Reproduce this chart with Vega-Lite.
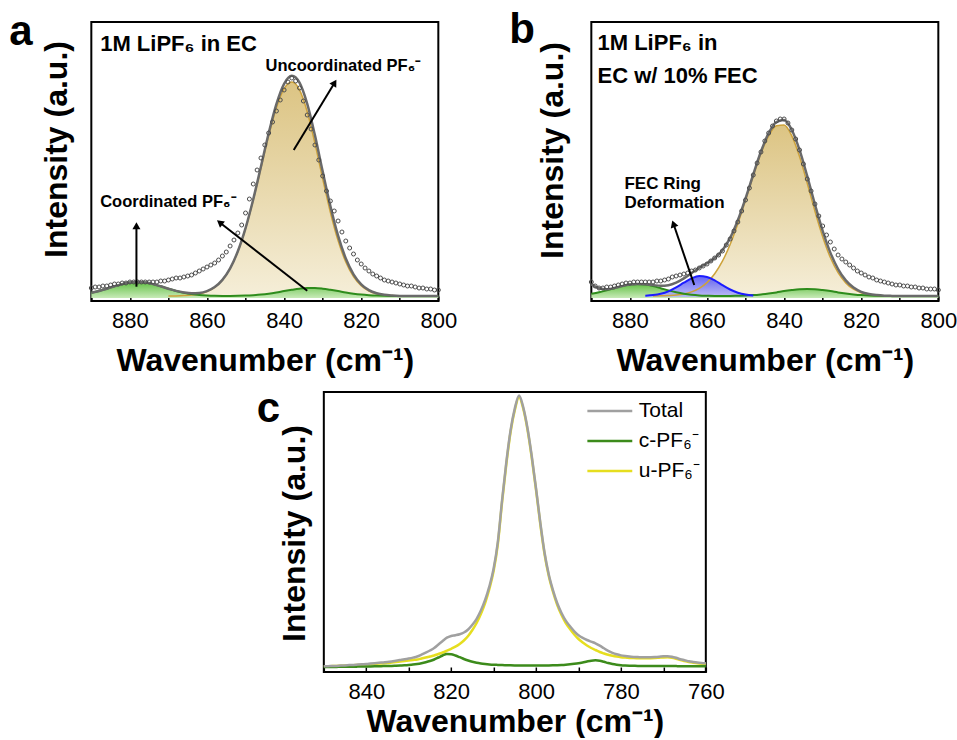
{
"$schema":"https://vega.github.io/schema/vega-lite/v6.json",
"padding":{"left":8,"top":7,"right":0,"bottom":0},
"config":{
 "font":"Liberation Sans",
 "view":{"stroke":"black","strokeWidth":2},
 "axis":{"grid":false,"domain":false,"labelFont":"Liberation Sans","labelFontSize":22,"labelColor":"black","titleFont":"Liberation Sans","titleFontSize":32,"titleFontWeight":"bold","titleColor":"black","tickColor":"black","tickWidth":1.5,"labelFlush":false,"labelOverlap":false},
 "axisX":{"tickSize":-5,"labelPadding":14,"titleBaseline":"alphabetic"},
 "axisY":{"labels":false,"ticks":false,"titleBaseline":"alphabetic"},
 "title":{"font":"Liberation Sans","fontSize":42,"fontWeight":"bold","color":"black","anchor":"start","frame":"group","offset":0,"baseline":"alphabetic"},
 "text":{"font":"Liberation Sans","fontWeight":"bold","color":"black","align":"left","baseline":"alphabetic"}
},
"datasets":{
"aFit":[
{"x":890,"total":8.2,"grn":8.2},{"x":888,"total":10.0,"grn":10.0},{"x":886,"total":12.3,"grn":12.3},{"x":884,"total":14.7,"grn":14.7},{"x":882,"total":16.9,"grn":16.9},{"x":880,"total":18.4,"grn":18.4},{"x":878,"total":19.0,"grn":19.0},{"x":876,"total":18.4,"grn":18.4},{"x":874,"total":16.9,"grn":16.9},{"x":872,"total":14.7,"grn":14.7},
{"x":870,"total":12.3,"yel":5.0,"grn":12.3},{"x":868,"total":10.1,"yel":5.1,"grn":10.0},{"x":866,"total":8.6,"yel":5.4,"grn":8.2},{"x":864,"total":7.8,"yel":5.9,"grn":6.9},{"x":862,"total":8.1,"yel":7.1,"grn":6.0},{"x":860,"total":9.9,"yel":9.4,"grn":5.5},{"x":858,"total":13.9,"yel":13.7,"grn":5.2},{"x":856,"total":21.1,"yel":21.0,"grn":5.1},{"x":854,"total":32.6,"yel":32.5,"grn":5.1},{"x":852,"total":49.7,"yel":49.5,"grn":5.2},
{"x":850,"total":72.9,"yel":72.5,"grn":5.4},{"x":848,"total":101.8,"yel":101.0,"grn":5.8},{"x":846,"total":134.5,"yel":133.1,"grn":6.4},{"x":844,"total":167.7,"yel":165.4,"grn":7.3},{"x":842,"total":196.8,"yel":193.3,"grn":8.5},{"x":840,"total":217.2,"yel":212.3,"grn":9.9},{"x":838,"total":225.2,"yel":219.0,"grn":11.2},{"x":836,"total":218.4,"yel":211.1,"grn":12.3},{"x":834,"total":197.1,"yel":189.2,"grn":12.9},{"x":832,"total":165.6,"yel":157.7,"grn":12.9},
{"x":830,"total":129.7,"yel":122.4,"grn":12.3},{"x":828,"total":95.0,"yel":88.8,"grn":11.2},{"x":826,"total":65.3,"yel":60.4,"grn":9.9},{"x":824,"total":42.5,"yel":39.0,"grn":8.5},{"x":822,"total":26.7,"yel":24.4,"grn":7.3},{"x":820,"total":16.7,"yel":15.3,"grn":6.4},{"x":818,"total":10.8,"yel":10.0,"grn":5.8},{"x":816,"total":7.7,"yel":7.3,"grn":5.4},{"x":814,"total":6.2,"yel":6.0,"grn":5.2},{"x":812,"total":5.5,"yel":5.4,"grn":5.1},
{"x":810,"total":5.1,"yel":5.1,"grn":5.0},{"x":808,"total":5.0,"yel":5.0,"grn":5.0},{"x":806,"total":5.0,"grn":5.0},{"x":804,"total":5.0,"grn":5.0},{"x":802,"total":5.0,"grn":5.0},{"x":800,"total":5.0,"grn":5.0}
],
"aObs":[
{"x":890,"y":13},{"x":889,"y":14},{"x":888,"y":14},{"x":887,"y":15},{"x":886,"y":15},{"x":885,"y":16},{"x":884,"y":17},{"x":883,"y":17},{"x":882,"y":18},{"x":881,"y":18},
{"x":880,"y":19},{"x":879,"y":19},{"x":878,"y":19},{"x":877,"y":19},{"x":876,"y":19},{"x":875,"y":19},{"x":874,"y":19},{"x":873,"y":19},{"x":872,"y":20},{"x":871,"y":20},
{"x":870,"y":21},{"x":869,"y":22},{"x":868,"y":23},{"x":867,"y":23},{"x":866,"y":24},{"x":865,"y":25},{"x":864,"y":26},{"x":863,"y":28},{"x":862,"y":30},{"x":861,"y":32},
{"x":860,"y":34},{"x":859,"y":36},{"x":858,"y":38},{"x":857,"y":41},{"x":856,"y":45},{"x":855,"y":49},{"x":854,"y":55},{"x":853,"y":61},{"x":852,"y":68},{"x":851,"y":76},
{"x":850,"y":88},{"x":849,"y":102},{"x":848,"y":117},{"x":847,"y":131},{"x":846,"y":143},{"x":845,"y":156},{"x":844,"y":168},{"x":843,"y":179},{"x":842,"y":190},{"x":841,"y":201},
{"x":840,"y":211},{"x":839,"y":219},{"x":838,"y":223},{"x":837,"y":220},{"x":836,"y":213},{"x":835,"y":200},{"x":834,"y":186},{"x":833,"y":172},{"x":832,"y":156},{"x":831,"y":141},
{"x":830,"y":125},{"x":829,"y":110},{"x":828,"y":100},{"x":827,"y":90},{"x":826,"y":80},{"x":825,"y":69},{"x":824,"y":60},{"x":823,"y":53},{"x":822,"y":47},{"x":821,"y":41},
{"x":820,"y":37},{"x":819,"y":33},{"x":818,"y":30},{"x":817,"y":27},{"x":816,"y":25},{"x":815,"y":23},{"x":814,"y":21},{"x":813,"y":20},{"x":812,"y":19},{"x":811,"y":18},
{"x":810,"y":17},{"x":809,"y":16},{"x":808,"y":15},{"x":807,"y":15},{"x":806,"y":14},{"x":805,"y":13},{"x":804,"y":13},{"x":803,"y":12},{"x":802,"y":12},{"x":801,"y":11},{"x":800,"y":11}
],
"aHead":[{"x":887.7,"y":250,"text":"1M LiPF₆ in EC"}],
"aNote":[{"x":844.8,"y":230,"text":"Uncoordinated PF₆⁻"},{"x":887.7,"y":94.3,"text":"Coordinated PF₆⁻"}],
"aArrow":[{"id":1,"x":878.3,"y":14.3,"x2":878.3,"y2":75.3},{"id":2,"x":834,"y":10.3,"x2":856.7,"y2":78.5},{"id":3,"x":837.5,"y":151,"x2":826.9,"y2":218.3}],
"bFit":[
{"x":890,"total":16.9,"grn":7.2},{"x":888,"total":12.7,"grn":8.7},{"x":886,"total":11.7,"grn":10.6},{"x":884,"total":13.0,"grn":12.8},{"x":882,"total":14.9,"grn":14.9},{"x":880,"total":16.4,"grn":16.4},{"x":878,"total":17.1,"grn":17.0},{"x":876,"total":16.7,"grn":16.4,"blu":5.3},
{"x":874,"total":15.9,"yel":5.1,"grn":14.9,"blu":5.9},{"x":872,"total":15.2,"yel":5.2,"grn":12.8,"blu":7.2},{"x":870,"total":15.8,"yel":5.5,"grn":10.6,"blu":9.7},{"x":868,"total":18.3,"yel":6.0,"grn":8.7,"blu":13.6},{"x":866,"total":22.6,"yel":7.1,"grn":7.2,"blu":18.3},{"x":864,"total":27.9,"yel":9.1,"grn":6.2,"blu":22.6},{"x":862,"total":33.2,"yel":12.7,"grn":5.6,"blu":24.9},{"x":860,"total":37.8,"yel":18.4,"grn":5.3,"blu":24.1},
{"x":858,"total":43.0,"yel":27.2,"grn":5.1,"blu":20.7},{"x":856,"total":50.7,"yel":39.8,"grn":5.1,"blu":15.9},{"x":854,"total":63.1,"yel":56.5,"grn":5.1,"blu":11.5},{"x":852,"total":80.8,"yel":77.2,"grn":5.3,"blu":8.3},{"x":850,"total":102.7,"yel":100.8,"grn":5.5,"blu":6.4},{"x":848,"total":126.5,"yel":125.1,"grn":5.9,"blu":5.5},{"x":846,"total":149.5,"yel":147.7,"grn":6.6},{"x":844,"total":167.8,"yel":165.2,"grn":7.5},
{"x":842,"total":178.9,"yel":175.3,"grn":8.6},{"x":840,"total":180.9,"yel":176.0,"grn":9.9},{"x":838,"total":171.0,"yel":165.1,"grn":10.9},{"x":836,"total":151.1,"yel":144.4,"grn":11.7},{"x":834,"total":124.8,"yel":117.8,"grn":12.0},{"x":832,"total":96.5,"yel":89.8,"grn":11.7},{"x":830,"total":70.2,"yel":64.3,"grn":10.9},{"x":828,"total":48.4,"yel":43.5,"grn":9.9},
{"x":826,"total":31.9,"yel":28.3,"grn":8.6},{"x":824,"total":20.6,"yel":18.1,"grn":7.5},{"x":822,"total":13.4,"yel":11.8,"grn":6.6},{"x":820,"total":9.2,"yel":8.3,"grn":5.9},{"x":818,"total":7.0,"yel":6.5,"grn":5.5},{"x":816,"total":5.9,"yel":5.6,"grn":5.3},{"x":814,"total":5.3,"yel":5.2,"grn":5.1},{"x":812,"total":5.1,"yel":5.1,"grn":5.0},
{"x":810,"total":5.0,"yel":5.0,"grn":5.0},{"x":808,"total":5.0,"grn":5.0},{"x":806,"total":5.0,"grn":5.0},{"x":804,"total":5.0,"grn":5.0},{"x":802,"total":5.0,"grn":5.0},{"x":800,"total":5.0,"grn":5.0}
],
"bObs":[
{"x":890,"y":19},{"x":889,"y":15},{"x":888,"y":13},{"x":887,"y":13},{"x":886,"y":14},{"x":885,"y":14},{"x":884,"y":15},{"x":883,"y":16},{"x":882,"y":17},{"x":881,"y":18},
{"x":880,"y":18},{"x":879,"y":19},{"x":878,"y":19},{"x":877,"y":19},{"x":876,"y":19},{"x":875,"y":19},{"x":874,"y":19},{"x":873,"y":20},{"x":872,"y":20},{"x":871,"y":21},
{"x":870,"y":22},{"x":869,"y":24},{"x":868,"y":25},{"x":867,"y":26},{"x":866,"y":27},{"x":865,"y":28},{"x":864,"y":30},{"x":863,"y":31},{"x":862,"y":33},{"x":861,"y":35},
{"x":860,"y":37},{"x":859,"y":40},{"x":858,"y":43},{"x":857,"y":46},{"x":856,"y":50},{"x":855,"y":56},{"x":854,"y":62},{"x":853,"y":70},{"x":852,"y":79},{"x":851,"y":90},
{"x":850,"y":101},{"x":849,"y":113},{"x":848,"y":126},{"x":847,"y":138},{"x":846,"y":149},{"x":845,"y":160},{"x":844,"y":168},{"x":843,"y":175},{"x":842,"y":180},{"x":841,"y":182},
{"x":840,"y":182},{"x":839,"y":178},{"x":838,"y":171},{"x":837,"y":162},{"x":836,"y":151},{"x":835,"y":137},{"x":834,"y":122},{"x":833,"y":110},{"x":832,"y":97},{"x":831,"y":85},
{"x":830,"y":75},{"x":829,"y":66},{"x":828,"y":59},{"x":827,"y":52},{"x":826,"y":46},{"x":825,"y":42},{"x":824,"y":39},{"x":823,"y":36},{"x":822,"y":33},{"x":821,"y":30},
{"x":820,"y":28},{"x":819,"y":26},{"x":818,"y":24},{"x":817,"y":23},{"x":816,"y":21},{"x":815,"y":20},{"x":814,"y":19},{"x":813,"y":18},{"x":812,"y":17},{"x":811,"y":16},
{"x":810,"y":16},{"x":809,"y":15},{"x":808,"y":15},{"x":807,"y":14},{"x":806,"y":14},{"x":805,"y":13},{"x":804,"y":13},{"x":803,"y":12},{"x":802,"y":12},{"x":801,"y":12},{"x":800,"y":11}
],
"bHead":[{"x":888.4,"y":251,"text":"1M LiPF₆ in"},{"x":888.4,"y":218.3,"text":"EC w/ 10% FEC"}],
"bNote":[{"x":881.4,"y":111.7,"text":"FEC Ring"},{"x":881.4,"y":92.7,"text":"Deformation"}],
"bArrow":[{"id":1,"x":863.3,"y":16,"x2":868.7,"y2":77.2}],
"cLines":[
{"x":850,"total":5.7,"c":5.0,"u":5.7},{"x":849,"total":5.8,"c":5.0,"u":5.8},{"x":848,"total":6.0,"c":5.1,"u":5.9},{"x":847,"total":6.1,"c":5.1,"u":6.0},{"x":846,"total":6.4,"c":5.2,"u":6.2},{"x":845,"total":6.6,"c":5.2,"u":6.4},{"x":844,"total":6.9,"c":5.3,"u":6.6},{"x":843,"total":7.1,"c":5.3,"u":6.8},{"x":842,"total":7.4,"c":5.4,"u":7.0},{"x":841,"total":7.7,"c":5.5,"u":7.2},
{"x":840,"total":8.0,"c":5.5,"u":7.5},{"x":839,"total":8.4,"c":5.6,"u":7.8},{"x":838,"total":8.8,"c":5.7,"u":8.1},{"x":837,"total":9.2,"c":5.8,"u":8.4},{"x":836,"total":9.6,"c":5.9,"u":8.7},{"x":835,"total":10.0,"c":6.0,"u":9.0},{"x":834,"total":10.6,"c":6.1,"u":9.5},{"x":833,"total":11.3,"c":6.3,"u":10.0},{"x":832,"total":12.0,"c":6.5,"u":10.5},{"x":831,"total":12.7,"c":6.7,"u":11.0},
{"x":830,"total":13.5,"c":7.0,"u":11.5},{"x":829,"total":14.4,"c":7.4,"u":12.0},{"x":828,"total":15.5,"c":8.0,"u":12.5},{"x":827,"total":17.3,"c":8.8,"u":13.5},{"x":826,"total":19.3,"c":9.8,"u":14.5},{"x":825,"total":21.5,"c":11.0,"u":15.5},{"x":824,"total":24.0,"c":12.5,"u":16.5},{"x":823,"total":27.5,"c":14.5,"u":18.0},{"x":822,"total":31.0,"c":16.5,"u":19.5},{"x":821,"total":34.3,"c":18.0,"u":21.3},
{"x":820,"total":36.0,"c":17.8,"u":23.2},{"x":819,"total":36.8,"c":16.5,"u":25.3},{"x":818,"total":37.8,"c":14.8,"u":28.0},{"x":817,"total":39.5,"c":13.0,"u":31.5},{"x":816,"total":42.5,"c":11.5,"u":36.0},{"x":815,"total":47.2,"c":10.2,"u":42.0},{"x":814,"total":53.2,"c":9.2,"u":49.0},{"x":813,"total":61.5,"c":8.5,"u":58.0},{"x":812,"total":72.0,"c":8.0,"u":69.0},{"x":811,"total":85.6,"c":7.6,"u":83.0},
{"x":810,"total":103.3,"c":7.3,"u":101.0},{"x":809,"total":130.1,"c":7.1,"u":128.0},{"x":808,"total":171.9,"c":6.9,"u":170.0},{"x":807,"total":209.8,"c":6.8,"u":208.0},{"x":806,"total":241.7,"c":6.7,"u":240.0},{"x":805,"total":263.6,"c":6.6,"u":262.0},{"x":804,"total":276.5,"c":6.5,"u":275.0},{"x":803,"total":264.5,"c":6.5,"u":263.0},{"x":802,"total":243.5,"c":6.5,"u":242.0},{"x":801,"total":215.5,"c":6.5,"u":214.0},
{"x":800,"total":183.5,"c":6.5,"u":182.0},{"x":799,"total":149.5,"c":6.5,"u":148.0},{"x":798,"total":119.5,"c":6.5,"u":118.0},{"x":797,"total":97.6,"c":6.6,"u":96.0},{"x":796,"total":81.7,"c":6.7,"u":80.0},{"x":795,"total":68.8,"c":6.8,"u":67.0},{"x":794,"total":59.0,"c":7.0,"u":57.0},{"x":793,"total":51.3,"c":7.3,"u":49.0},{"x":792,"total":45.7,"c":7.7,"u":43.0},{"x":791,"total":40.7,"c":8.2,"u":37.5},
{"x":790,"total":36.8,"c":8.8,"u":33.0},{"x":789,"total":34.1,"c":9.6,"u":29.5},{"x":788,"total":32.0,"c":10.5,"u":26.5},{"x":787,"total":30.3,"c":11.3,"u":24.0},{"x":786,"total":28.7,"c":11.7,"u":22.0},{"x":785,"total":26.3,"c":11.3,"u":20.0},{"x":784,"total":23.7,"c":10.2,"u":18.5},{"x":783,"total":21.2,"c":9.0,"u":17.2},{"x":782,"total":19.2,"c":8.0,"u":16.2},{"x":781,"total":17.7,"c":7.3,"u":15.4},
{"x":780,"total":16.6,"c":6.8,"u":14.8},{"x":779,"total":15.9,"c":6.5,"u":14.4},{"x":778,"total":15.4,"c":6.3,"u":14.1},{"x":777,"total":15.1,"c":6.2,"u":13.9},{"x":776,"total":14.9,"c":6.1,"u":13.8},{"x":775,"total":14.7,"c":6.0,"u":13.7},{"x":774,"total":14.7,"c":6.0,"u":13.7},{"x":773,"total":14.8,"c":6.0,"u":13.8},{"x":772,"total":15.0,"c":6.0,"u":14.0},{"x":771,"total":15.3,"c":6.0,"u":14.3},
{"x":770,"total":15.7,"c":6.1,"u":14.6},{"x":769,"total":15.8,"c":6.1,"u":14.7},{"x":768,"total":15.3,"c":6.0,"u":14.3},{"x":767,"total":14.2,"c":5.9,"u":13.3},{"x":766,"total":12.8,"c":5.8,"u":12.0},{"x":765,"total":11.8,"c":5.8,"u":11.0},{"x":764,"total":10.7,"c":5.7,"u":10.0},{"x":763,"total":10.0,"c":5.7,"u":9.3},{"x":762,"total":9.4,"c":5.7,"u":8.7},{"x":761,"total":9.0,"c":5.7,"u":8.3},{"x":760,"total":8.7,"c":5.7,"u":8.0}
]
},
"resolve":{"scale":{"color":"independent"},"legend":{"color":"independent"}},
"vconcat":[
{"hconcat":[
{
 "width":347,"height":279,
 "title":{"text":"a","dx":-82,"dy":35.5},
 "encoding":{"x":{"field":"x","type":"quantitative","title":"Wavenumber (cm⁻¹)","scale":{"domain":[800,890],"reverse":true,"nice":false,"zero":false},"axis":{"values":[800,810,820,830,840,850,860,870,880,890],"labelExpr":"datum.value % 20 === 0 ? datum.label : ''","titleY":69}}},
 "layer":[
  {"data":{"name":"aFit"},"mark":{"type":"area","interpolate":"monotone","fill":{"gradient":"linear","x1":0,"y1":0,"x2":0,"y2":1,"stops":[{"offset":0,"color":"#dcc483"},{"offset":1,"color":"#f5eed8"}]}},
   "encoding":{"y":{"field":"yel","type":"quantitative","title":"Intensity (a.u.)","scale":{"domain":[0,279],"nice":false,"zero":false},"axis":{"titleX":-25,"titleY":127}},"y2":{"datum":5}}},
  {"data":{"name":"aFit"},"mark":{"type":"area","interpolate":"monotone","fill":{"gradient":"linear","x1":0,"y1":0,"x2":0,"y2":1,"stops":[{"offset":0,"color":"#62c044"},{"offset":1,"color":"#c8eab8"}]}},
   "encoding":{"y":{"field":"grn","type":"quantitative","title":"Intensity (a.u.)","scale":{"domain":[0,279],"nice":false,"zero":false}},"y2":{"datum":3}}},
  {"data":{"name":"aFit"},"mark":{"type":"line","interpolate":"monotone","color":"#cda23a","strokeWidth":1.5},
   "encoding":{"y":{"field":"yel","type":"quantitative","title":"Intensity (a.u.)","scale":{"domain":[0,279],"nice":false,"zero":false}}}},
  {"data":{"name":"aFit"},"mark":{"type":"line","interpolate":"monotone","color":"#2e8c1c","strokeWidth":2},
   "encoding":{"y":{"field":"grn","type":"quantitative","title":"Intensity (a.u.)","scale":{"domain":[0,279],"nice":false,"zero":false}}}},
  {"data":{"name":"aFit"},"mark":{"type":"line","interpolate":"monotone","color":"#6a6a6a","strokeWidth":2.5},
   "encoding":{"y":{"field":"total","type":"quantitative","title":"Intensity (a.u.)","scale":{"domain":[0,279],"nice":false,"zero":false}}}},
  {"data":{"name":"aObs"},"mark":{"type":"point","shape":"circle","filled":false,"color":"#4d4d4d","size":16,"strokeWidth":1,"opacity":1},
   "encoding":{"y":{"field":"y","type":"quantitative","title":"Intensity (a.u.)","scale":{"domain":[0,279],"nice":false,"zero":false}}}},
  {"data":{"name":"aArrow"},"mark":{"type":"rule","color":"black","strokeWidth":2},
   "encoding":{"y":{"field":"y","type":"quantitative","title":"Intensity (a.u.)","scale":{"domain":[0,279],"nice":false,"zero":false}},"x2":{"field":"x2"},"y2":{"field":"y2"}}},
  {"data":{"name":"aArrow"},"transform":[{"filter":"datum.id == 1"}],"mark":{"type":"point","shape":"triangle-up","filled":true,"color":"black","size":64,"angle":0,"opacity":1},
   "encoding":{"x":{"field":"x2","type":"quantitative","title":"Wavenumber (cm⁻¹)","scale":{"domain":[800,890],"reverse":true,"nice":false,"zero":false}},"y":{"field":"y2","type":"quantitative","title":"Intensity (a.u.)","scale":{"domain":[0,279],"nice":false,"zero":false}}}},
  {"data":{"name":"aArrow"},"transform":[{"filter":"datum.id == 2"}],"mark":{"type":"point","shape":"triangle-up","filled":true,"color":"black","size":64,"angle":308,"opacity":1},
   "encoding":{"x":{"field":"x2","type":"quantitative","title":"Wavenumber (cm⁻¹)","scale":{"domain":[800,890],"reverse":true,"nice":false,"zero":false}},"y":{"field":"y2","type":"quantitative","title":"Intensity (a.u.)","scale":{"domain":[0,279],"nice":false,"zero":false}}}},
  {"data":{"name":"aArrow"},"transform":[{"filter":"datum.id == 3"}],"mark":{"type":"point","shape":"triangle-up","filled":true,"color":"black","size":64,"angle":31,"opacity":1},
   "encoding":{"x":{"field":"x2","type":"quantitative","title":"Wavenumber (cm⁻¹)","scale":{"domain":[800,890],"reverse":true,"nice":false,"zero":false}},"y":{"field":"y2","type":"quantitative","title":"Intensity (a.u.)","scale":{"domain":[0,279],"nice":false,"zero":false}}}},
  {"data":{"name":"aHead"},"mark":{"type":"text","fontSize":22},
   "encoding":{"y":{"field":"y","type":"quantitative","title":"Intensity (a.u.)","scale":{"domain":[0,279],"nice":false,"zero":false}},"text":{"field":"text"}}},
  {"data":{"name":"aNote"},"mark":{"type":"text","fontSize":16.5},
   "encoding":{"y":{"field":"y","type":"quantitative","title":"Intensity (a.u.)","scale":{"domain":[0,279],"nice":false,"zero":false}},"text":{"field":"text"}}}
 ]
},
{
 "width":347,"height":279,
 "title":{"text":"b","dx":-82,"dy":33.5},
 "encoding":{"x":{"field":"x","type":"quantitative","title":"Wavenumber (cm⁻¹)","scale":{"domain":[800,890],"reverse":true,"nice":false,"zero":false},"axis":{"values":[800,810,820,830,840,850,860,870,880,890],"labelExpr":"datum.value % 20 === 0 ? datum.label : ''","titleY":69}}},
 "layer":[
  {"data":{"name":"bFit"},"mark":{"type":"area","interpolate":"monotone","fill":{"gradient":"linear","x1":0,"y1":0,"x2":0,"y2":1,"stops":[{"offset":0,"color":"#dcc483"},{"offset":1,"color":"#f5eed8"}]}},
   "encoding":{"y":{"field":"yel","type":"quantitative","title":"Intensity (a.u.)","scale":{"domain":[0,279],"nice":false,"zero":false},"axis":{"titleX":-29,"titleY":128}},"y2":{"datum":5}}},
  {"data":{"name":"bFit"},"mark":{"type":"area","interpolate":"monotone","fill":{"gradient":"linear","x1":0,"y1":0,"x2":0,"y2":1,"stops":[{"offset":0,"color":"#62c044"},{"offset":1,"color":"#c8eab8"}]}},
   "encoding":{"y":{"field":"grn","type":"quantitative","title":"Intensity (a.u.)","scale":{"domain":[0,279],"nice":false,"zero":false}},"y2":{"datum":3}}},
  {"data":{"name":"bFit"},"mark":{"type":"area","interpolate":"monotone","opacity":0.85,"fill":{"gradient":"linear","x1":0,"y1":0,"x2":0,"y2":1,"stops":[{"offset":0,"color":"#4a4af2"},{"offset":1,"color":"#b4b4fa"}]}},
   "encoding":{"y":{"field":"blu","type":"quantitative","title":"Intensity (a.u.)","scale":{"domain":[0,279],"nice":false,"zero":false}},"y2":{"datum":4}}},
  {"data":{"name":"bFit"},"mark":{"type":"line","interpolate":"monotone","color":"#cda23a","strokeWidth":1.5},
   "encoding":{"y":{"field":"yel","type":"quantitative","title":"Intensity (a.u.)","scale":{"domain":[0,279],"nice":false,"zero":false}}}},
  {"data":{"name":"bFit"},"mark":{"type":"line","interpolate":"monotone","color":"#2e8c1c","strokeWidth":2},
   "encoding":{"y":{"field":"grn","type":"quantitative","title":"Intensity (a.u.)","scale":{"domain":[0,279],"nice":false,"zero":false}}}},
  {"data":{"name":"bFit"},"mark":{"type":"line","interpolate":"monotone","color":"#1c1cff","strokeWidth":2},
   "encoding":{"y":{"field":"blu","type":"quantitative","title":"Intensity (a.u.)","scale":{"domain":[0,279],"nice":false,"zero":false}}}},
  {"data":{"name":"bFit"},"mark":{"type":"line","interpolate":"monotone","color":"#6a6a6a","strokeWidth":2.5},
   "encoding":{"y":{"field":"total","type":"quantitative","title":"Intensity (a.u.)","scale":{"domain":[0,279],"nice":false,"zero":false}}}},
  {"data":{"name":"bObs"},"mark":{"type":"point","shape":"circle","filled":false,"color":"#4d4d4d","size":16,"strokeWidth":1,"opacity":1},
   "encoding":{"y":{"field":"y","type":"quantitative","title":"Intensity (a.u.)","scale":{"domain":[0,279],"nice":false,"zero":false}}}},
  {"data":{"name":"bArrow"},"mark":{"type":"rule","color":"black","strokeWidth":2},
   "encoding":{"y":{"field":"y","type":"quantitative","title":"Intensity (a.u.)","scale":{"domain":[0,279],"nice":false,"zero":false}},"x2":{"field":"x2"},"y2":{"field":"y2"}}},
  {"data":{"name":"bArrow"},"mark":{"type":"point","shape":"triangle-up","filled":true,"color":"black","size":64,"angle":341,"opacity":1},
   "encoding":{"x":{"field":"x2","type":"quantitative","title":"Wavenumber (cm⁻¹)","scale":{"domain":[800,890],"reverse":true,"nice":false,"zero":false}},"y":{"field":"y2","type":"quantitative","title":"Intensity (a.u.)","scale":{"domain":[0,279],"nice":false,"zero":false}}}},
  {"data":{"name":"bHead"},"mark":{"type":"text","fontSize":22},
   "encoding":{"y":{"field":"y","type":"quantitative","title":"Intensity (a.u.)","scale":{"domain":[0,279],"nice":false,"zero":false}},"text":{"field":"text"}}},
  {"data":{"name":"bNote"},"mark":{"type":"text","fontSize":17},
   "encoding":{"y":{"field":"y","type":"quantitative","title":"Intensity (a.u.)","scale":{"domain":[0,279],"nice":false,"zero":false}},"text":{"field":"text"}}}
 ]
}
],"spacing":50},
{
 "width":382,"height":280,
 "title":{"text":"c","dx":-67,"dy":44.5},
 "data":{"name":"cLines"},
 "encoding":{"x":{"field":"x","type":"quantitative","title":"Wavenumber (cm⁻¹)","scale":{"domain":[760,850],"reverse":true,"nice":false,"zero":false},"axis":{"values":[760,770,780,790,800,810,820,830,840,850],"labelExpr":"datum.value % 20 === 0 ? datum.label : ''","titleY":59}}},
 "layer":[
  {"mark":{"type":"line","interpolate":"monotone","strokeWidth":2.5},
   "encoding":{"y":{"field":"u","type":"quantitative","title":"Intensity (a.u.)","scale":{"domain":[0,280],"nice":false,"zero":false},"axis":{"titleX":-19,"titleY":141}},
    "color":{"datum":"u","type":"nominal","title":null,"scale":{"domain":["total","c","u"],"range":["#a0a0a0","#3c8b1b","#e6de1f"]},
     "legend":{"orient":"none","legendX":266,"legendY":-1,"symbolType":"M-1.2,0H1.2","symbolSize":1400,"symbolStrokeWidth":2.5,"symbolFillColor":"transparent","labelFontSize":21,"labelFont":"Liberation Sans","labelColor":"black","labelOffset":9,"rowPadding":0,"labelExpr":"datum.label == 'total' ? 'Total' : datum.label == 'c' ? 'c-PF₆⁻' : 'u-PF₆⁻'"}}}},
  {"mark":{"type":"line","interpolate":"monotone","strokeWidth":2.5},
   "encoding":{"y":{"field":"c","type":"quantitative","title":"Intensity (a.u.)","scale":{"domain":[0,280],"nice":false,"zero":false}},"color":{"datum":"c","type":"nominal"}}},
  {"mark":{"type":"line","interpolate":"monotone","strokeWidth":2.5},
   "encoding":{"y":{"field":"total","type":"quantitative","title":"Intensity (a.u.)","scale":{"domain":[0,280],"nice":false,"zero":false}},"color":{"datum":"total","type":"nominal"}}}
 ]
}
],
"spacing":9,
"center":true
}
